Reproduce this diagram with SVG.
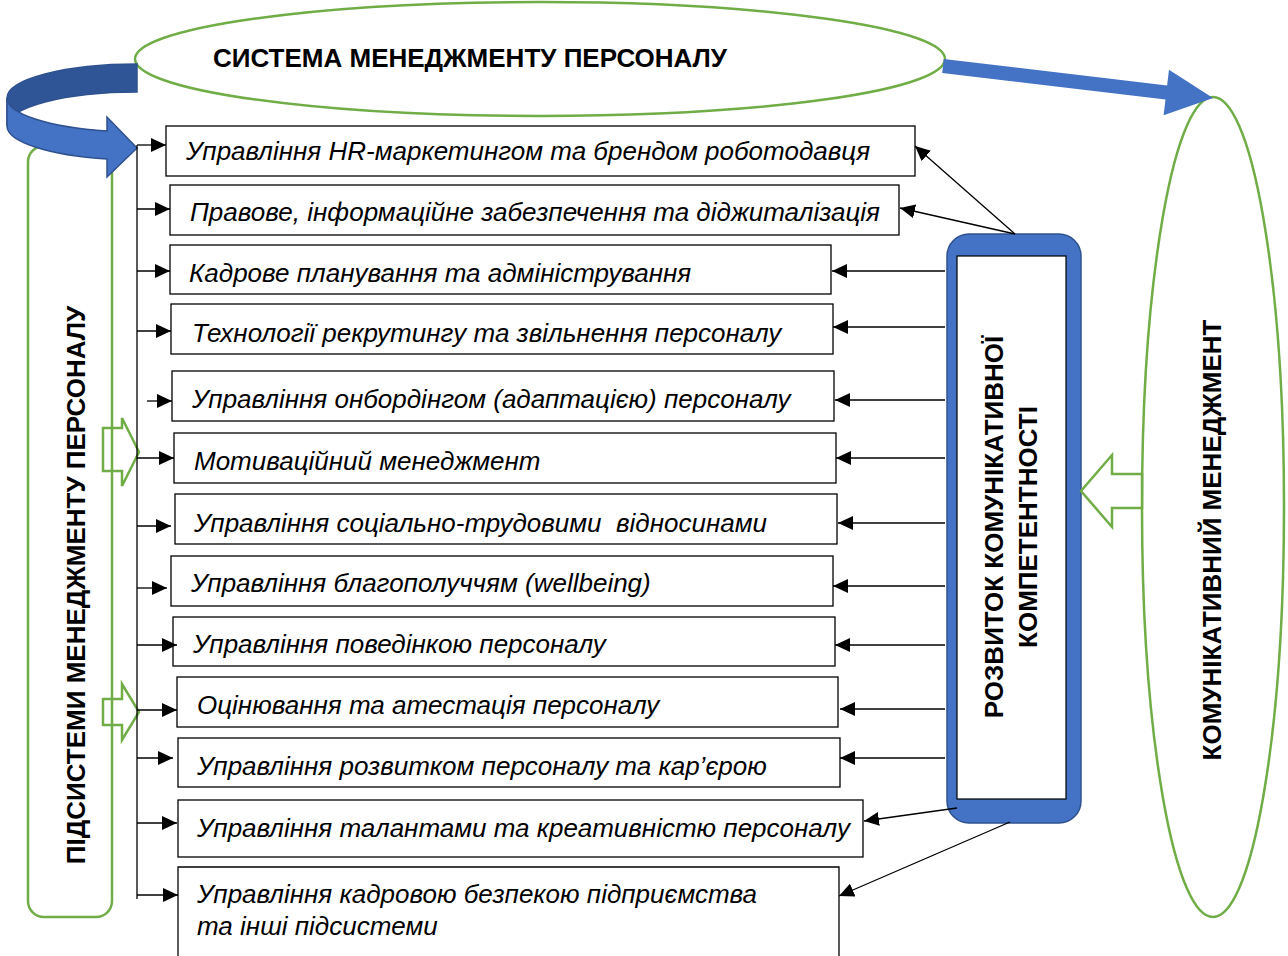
<svg xmlns="http://www.w3.org/2000/svg" width="1288" height="956" viewBox="0 0 1288 956">
<style>
.box{fill:#fff;stroke:#000;stroke-width:1.3}
.bt{font-family:"Liberation Sans",Arial,sans-serif;font-style:italic;font-size:26px;fill:#000}
.hd{font-family:"Liberation Sans",Arial,sans-serif;font-weight:bold;font-size:26px;fill:#000}
.gr{fill:#fff;stroke:#70AD47;stroke-width:2.5}
.grn{fill:none;stroke:#70AD47;stroke-width:2.5}
.ln{fill:none;stroke:#000;stroke-width:1.3}
.ar{fill:none;stroke:#000;stroke-width:1.3;marker-end:url(#ah)}
</style>
<defs>
<marker id="ah" markerUnits="userSpaceOnUse" markerWidth="15" markerHeight="14" refX="15" refY="7" orient="auto">
<path d="M0,0 L15,7 L0,14 Z" fill="#000"/>
</marker>
</defs>
<rect width="1288" height="956" fill="#fff"/>

<g id="n-system">
<ellipse class="gr" cx="540" cy="59" rx="405" ry="57"/>
<text class="hd" x="213" y="67">СИСТЕМА МЕНЕДЖМЕНТУ ПЕРСОНАЛУ</text>
</g>

<g id="n-subsystems">
<rect class="gr" x="28" y="146" width="84" height="771" rx="16"/>
<text class="hd" transform="translate(85,585) rotate(-90)" text-anchor="middle">ПІДСИСТЕМИ МЕНЕДЖМЕНТУ ПЕРСОНАЛУ</text>
</g>

<g id="curved-arrow">
<path d="M137,64 A130,34 0 0 0 7,98 L7,126 A130,34 0 0 1 137,92 Z" fill="#2F5597" stroke="#2F528F" stroke-width="1.5"/>
<path d="M7,98 A130,34 0 0 0 107,131 L107,117 L137,148 L107,177 L107,159 A130,34 0 0 1 7,126 Z" fill="#4472C4" stroke="#2F528F" stroke-width="1.5"/>
</g>

<g id="n-comm-mgmt">
<ellipse class="gr" cx="1213" cy="507" rx="71" ry="410"/>
<text class="hd" transform="translate(1221,540) rotate(-90)" text-anchor="middle">КОМУНІКАТИВНИЙ МЕНЕДЖМЕНТ</text>
</g>

<g id="n-competence">
<rect x="947" y="234" width="134" height="589" rx="22" fill="#4472C4" stroke="#2F528F" stroke-width="1.5"/>
<rect x="957" y="256" width="109" height="543" fill="#fff" stroke="#000" stroke-width="1.2"/>
<text class="hd" transform="translate(1003,527) rotate(-90)" text-anchor="middle">РОЗВИТОК КОМУНІКАТИВНОЇ</text>
<text class="hd" transform="translate(1037,527) rotate(-90)" text-anchor="middle">КОМПЕТЕНТНОСТІ</text>
</g>

<g id="n1"><rect class="box" x="166" y="126" width="749" height="50"/><text class="bt" x="186" y="160">Управління HR-маркетингом та брендом роботодавця</text></g>
<g id="n2"><rect class="box" x="170" y="185" width="729" height="50"/><text class="bt" x="190" y="221">Правове, інформаційне забезпечення та діджиталізація</text></g>
<g id="n3"><rect class="box" x="170" y="245" width="661" height="49"/><text class="bt" x="189" y="282">Кадрове планування та адміністрування</text></g>
<g id="n4"><rect class="box" x="171" y="304" width="662" height="50"/><text class="bt" x="192" y="342">Технології рекрутингу та звільнення персоналу</text></g>
<g id="n5"><rect class="box" x="172" y="371" width="662" height="50"/><text class="bt" x="192" y="408">Управління онбордінгом (адаптацією) персоналу</text></g>
<g id="n6"><rect class="box" x="174" y="433" width="662" height="50"/><text class="bt" x="194" y="470">Мотиваційний менеджмент</text></g>
<g id="n7"><rect class="box" x="175" y="494" width="662" height="50"/><text class="bt" x="194" y="532" xml:space="preserve">Управління соціально-трудовими  відносинами</text></g>
<g id="n8"><rect class="box" x="171" y="556" width="662" height="50"/><text class="bt" x="191" y="592">Управління благополуччям (wellbeing)</text></g>
<g id="n9"><rect class="box" x="173" y="617" width="662" height="49"/><text class="bt" x="193" y="653">Управління поведінкою персоналу</text></g>
<g id="n10"><rect class="box" x="177" y="677" width="661" height="50"/><text class="bt" x="197" y="714">Оцінювання та атестація персоналу</text></g>
<g id="n11"><rect class="box" x="178" y="738" width="662" height="49"/><text class="bt" x="197" y="775">Управління розвитком персоналу та кар’єрою</text></g>
<g id="n12"><rect class="box" x="178" y="800" width="685" height="57"/><text class="bt" x="197" y="837">Управління талантами та креативністю персоналу</text></g>
<g id="n13"><path class="box" d="M178,960 L178,867 L839,867 L839,960"/><text class="bt" x="197" y="903">Управління кадровою безпекою підприємства</text><text class="bt" x="197" y="935">та інші підсистеми</text></g>

<g id="green-arrows">
<polygon class="grn" points="103,428 122,428 122,418 139,452 122,486 122,471 103,471"/>
<polygon class="grn" points="103,699 122,699 122,684 139,712 122,740 122,725 103,725"/>
<polygon class="gr" points="1142,474 1112,474 1112,455 1081,491 1112,527 1112,508 1142,508"/>
</g>

<g id="connectors">
<polygon points="943.8,59 1167.1,85.5 1169,69.7 1213,98 1163.6,115.3 1165.5,99.5 942.2,73" fill="#4472C4"/>
<path class="ln" d="M137,145 L137,899"/>
<path class="ar" d="M137,145 L166,145"/>
<path class="ar" d="M137,209 L170,209"/>
<path class="ar" d="M137,271 L170,271"/>
<path class="ar" d="M137,331 L171,331"/>
<path class="ar" d="M147,401 L172,401"/>
<path class="ar" d="M137,458 L174,458"/>
<path class="ar" d="M137,526 L171,526"/>
<path class="ar" d="M137,588 L167,588"/>
<path class="ar" d="M137,645 L177,645"/>
<path class="ar" d="M137,710 L177,710"/>
<path class="ar" d="M137,758 L173,758"/>
<path class="ar" d="M137,823 L177,823"/>
<path class="ar" d="M137,895 L178,895"/>
<path class="ar" d="M1015,234 L915,146"/>
<path class="ar" d="M1015,234 L900,208"/>
<path class="ar" d="M945,271 L832,271"/>
<path class="ar" d="M945,327 L833,327"/>
<path class="ar" d="M945,400 L835,400"/>
<path class="ar" d="M945,458 L836,458"/>
<path class="ar" d="M945,523 L838,523"/>
<path class="ar" d="M945,586 L833,586"/>
<path class="ar" d="M945,645 L835,645"/>
<path class="ar" d="M945,709 L840,709"/>
<path class="ar" d="M945,758 L840,758"/>
<path class="ar" d="M957,808 L864,821"/>
<path class="ar" d="M1010,822 L839,896"/>
</g>
</svg>
